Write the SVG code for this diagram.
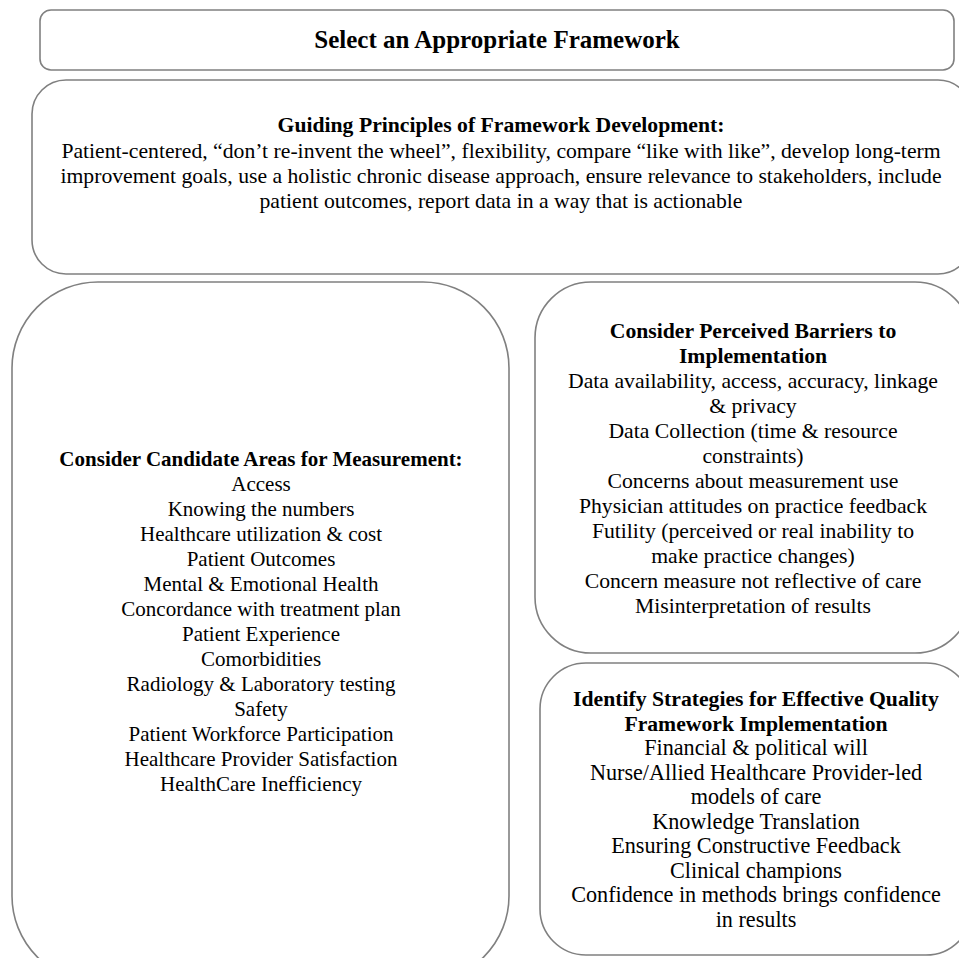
<svg xmlns="http://www.w3.org/2000/svg" width="959" height="958" viewBox="0 0 959 958">
<style>
.box{fill:#ffffff;stroke:#808080;stroke-width:1.6}
text{font-family:"Liberation Serif","Times New Roman",serif;fill:#000;text-anchor:middle}
.h{font-weight:bold;font-size:21.7px}
.t{font-size:21.7px}
.title{font-weight:bold;font-size:25px}
#candidate .h,#candidate .t{font-size:21px}
#strategies .t{font-size:22.2px}
</style>
<rect width="959" height="958" fill="#ffffff"/>
<g id="connectors"></g>
<g id="select">
<rect class="box" x="40" y="10" width="914" height="60" rx="11" ry="11"/>
<text class="title" x="497" y="48">Select an Appropriate Framework</text>
</g>
<g id="principles">
<rect class="box" x="32" y="80" width="940" height="194" rx="34" ry="34"/>
<text class="h" x="501" y="132">Guiding Principles of Framework Development:</text>
<text class="t" x="501" y="158">Patient-centered, “don’t re-invent the wheel”, flexibility, compare “like with like”, develop long-term</text>
<text class="t" x="501" y="183">improvement goals, use a holistic chronic disease approach, ensure relevance to  stakeholders, include</text>
<text class="t" x="501" y="208">patient outcomes, report data in a way that is actionable</text>
</g>
<g id="candidate">
<rect class="box" x="12" y="282" width="497" height="700" rx="86" ry="86"/>
<text class="h" x="261" y="466">Consider Candidate Areas for Measurement:</text>
<text class="t" x="261" y="491">Access</text>
<text class="t" x="261" y="516">Knowing the numbers</text>
<text class="t" x="261" y="541">Healthcare utilization &amp; cost</text>
<text class="t" x="261" y="566">Patient Outcomes</text>
<text class="t" x="261" y="591">Mental &amp; Emotional Health</text>
<text class="t" x="261" y="616">Concordance with treatment plan</text>
<text class="t" x="261" y="641">Patient Experience</text>
<text class="t" x="261" y="666">Comorbidities</text>
<text class="t" x="261" y="691">Radiology &amp; Laboratory testing</text>
<text class="t" x="261" y="716">Safety</text>
<text class="t" x="261" y="741">Patient Workforce Participation</text>
<text class="t" x="261" y="766">Healthcare Provider Satisfaction</text>
<text class="t" x="261" y="791">HealthCare Inefficiency</text>
</g>
<g id="barriers">
<rect class="box" x="535" y="282" width="436" height="371" rx="56" ry="56"/>
<text class="h" x="753" y="338">Consider Perceived Barriers to</text>
<text class="h" x="753" y="363">Implementation</text>
<text class="t" x="753" y="388">Data availability, access, accuracy, linkage</text>
<text class="t" x="753" y="413">&amp; privacy</text>
<text class="t" x="753" y="438">Data Collection (time &amp; resource</text>
<text class="t" x="753" y="463">constraints)</text>
<text class="t" x="753" y="488">Concerns about measurement use</text>
<text class="t" x="753" y="513">Physician attitudes on practice feedback</text>
<text class="t" x="753" y="538">Futility (perceived or real inability to</text>
<text class="t" x="753" y="563">make practice changes)</text>
<text class="t" x="753" y="588">Concern measure not reflective of care</text>
<text class="t" x="753" y="613">Misinterpretation of results</text>
</g>
<g id="strategies">
<rect class="box" x="540" y="663" width="432" height="292" rx="46" ry="46"/>
<text class="h" x="756" y="706">Identify Strategies for Effective Quality</text>
<text class="h" x="756" y="730.5">Framework Implementation</text>
<text class="t" x="756" y="755">Financial &amp; political will</text>
<text class="t" x="756" y="779.5">Nurse/Allied Healthcare Provider-led</text>
<text class="t" x="756" y="804">models of care</text>
<text class="t" x="756" y="828.5">Knowledge Translation</text>
<text class="t" x="756" y="853">Ensuring Constructive Feedback</text>
<text class="t" x="756" y="877.5">Clinical champions</text>
<text class="t" x="756" y="902">Confidence in methods brings confidence</text>
<text class="t" x="756" y="926.5">in results</text>
</g>
</svg>
